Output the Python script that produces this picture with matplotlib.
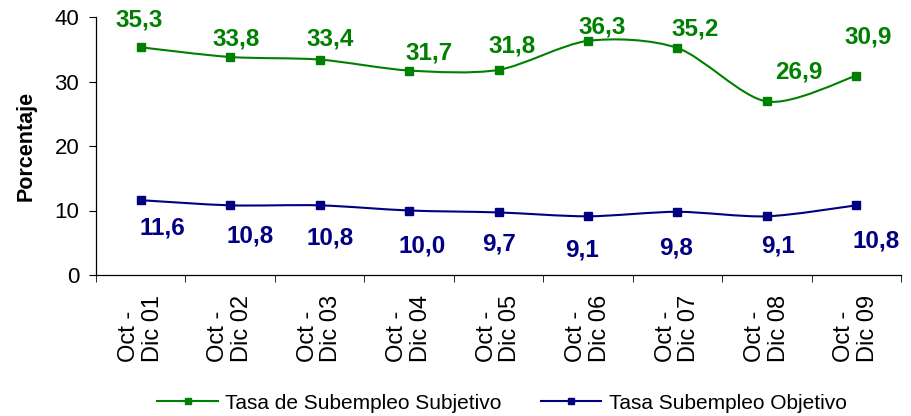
import numpy as np
import matplotlib.pyplot as plt
from matplotlib.path import Path
from matplotlib.patches import PathPatch
from matplotlib.lines import Line2D

plt.rcParams['font.family'] = ['Liberation Sans', 'DejaVu Sans']

periodos = ['Oct -\nDic 01', 'Oct -\nDic 02', 'Oct -\nDic 03', 'Oct -\nDic 04', 'Oct -\nDic 05',
            'Oct -\nDic 06', 'Oct -\nDic 07', 'Oct -\nDic 08', 'Oct -\nDic 09']
subjetivo = [35.3, 33.8, 33.4, 31.7, 31.8, 36.3, 35.2, 26.9, 30.9]
objetivo = [11.6, 10.8, 10.8, 10.0, 9.7, 9.1, 9.8, 9.1, 10.8]

verde = '#008000'
azul = '#000080'

# label offsets in pixels (dx, dy), as placed in the original
off_verde = [(-2, 27), (6, 18), (11, 21), (20, 18), (14, 24), (14, 14), (18, 19), (32, 29), (12, 39)]
off_azul = [(22, -28), (20, -31), (11, -33), (13, -35), (1, -32), (-6, -34), (-1, -36), (11, -30), (20, -36)]


def linea_suave(ax, x, y, color):
    # smoothed line like excel (catmull-rom as bezier)
    pts = np.column_stack([x, y]).astype(float)
    ext = np.vstack([pts[0], pts, pts[-1]])
    verts = [pts[0]]
    codes = [Path.MOVETO]
    for i in range(len(pts) - 1):
        p0, p1, p2, p3 = ext[i], ext[i + 1], ext[i + 2], ext[i + 3]
        verts += [p1 + (p2 - p0) / 7, p2 - (p3 - p1) / 7, p2]
        codes += [Path.CURVE4] * 3
    ax.add_patch(PathPatch(Path(verts, codes), fill=False, edgecolor=color, lw=1.5))


fig = plt.figure(figsize=(9.11, 4.16), dpi=100)
ax = fig.add_axes([96 / 911, 1 - 275 / 416, 805 / 911, 258 / 416])

x = np.arange(len(periodos))
for serie, col, offs in [(subjetivo, verde, off_verde), (objetivo, azul, off_azul)]:
    linea_suave(ax, x, serie, col)
    ax.plot(x, serie, ls='none', marker='s', ms=6, color=col, zorder=3)
    for xi, v, (dx, dy) in zip(x, serie, offs):
        ax.annotate(f'{v:.1f}'.replace('.', ','), (xi, v), xytext=(dx, dy), textcoords='offset pixels',
                    ha='center', va='center', fontsize=17.5, fontweight='bold', color=col)

ax.set_xlim(-0.5, len(periodos) - 0.5)
ax.set_ylim(0, 40)
ax.set_yticks([0, 10, 20, 30, 40])
ax.set_xticks(x)
ax.set_xticklabels(periodos, rotation=90, ha='center', va='top', multialignment='left', linespacing=1.1)
ax.set_xticks(np.arange(-0.5, len(periodos)), minor=True)
ax.tick_params(axis='x', which='major', length=0, pad=14, labelsize=17)
ax.tick_params(axis='x', which='minor', length=5, direction='out')
ax.tick_params(axis='y', length=5, pad=7, labelsize=16)
for s in ['top', 'right']:
    ax.spines[s].set_visible(False)
for s in ['left', 'bottom']:
    ax.spines[s].set_linewidth(0.9)

fig.text(26 / 911, 1 - 146 / 416, 'Porcentaje', rotation=90, ha='center', va='center',
         fontsize=15.5, fontweight='bold')

handles = [Line2D([], [], color=verde, marker='s', ms=5, lw=1.5),
           Line2D([], [], color=azul, marker='s', ms=5, lw=1.5)]
fig.legend(handles, ['Tasa de Subempleo Subjetivo', 'Tasa Subempleo Objetivo'], loc='center',
           bbox_to_anchor=(0.551, 0.031), ncol=2, frameon=False, fontsize=15,
           handlelength=2.9, handletextpad=0.35, columnspacing=1.9)

fig.savefig('out.png', dpi=100)
